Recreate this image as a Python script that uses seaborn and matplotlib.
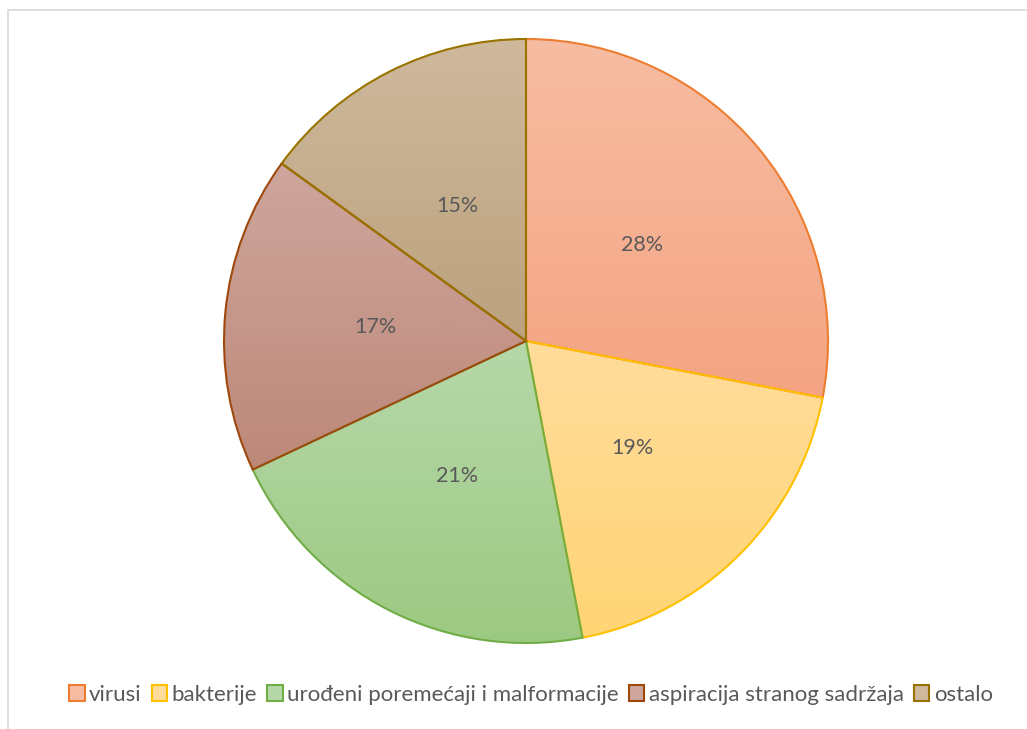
import numpy as np
import matplotlib
matplotlib.use("Agg")
import matplotlib.pyplot as plt
import seaborn as sns
from matplotlib.colors import LinearSegmentedColormap
from matplotlib.lines import Line2D

sns.set_theme(style="white")
plt.rcParams['font.family'] = ['Lato', 'DejaVu Sans']

#----------------------------------
# Data
#----------------------------------
categories = ['virusi', 'bakterije', 'urođeni poremećaji i malformacije',
              'aspiracija stranog sadržaja', 'ostalo']
shares = [28, 19, 21, 17, 15]

# fill gradient (top, bottom) and outline colours per slice
top_colors = ['#F7BDA3', '#FFDC9C', '#B6D8A9', '#CEA69D', '#CEB99D']
bottom_colors = ['#F4A482', '#FFD575', '#9CC982', '#BD8878', '#BCA27D']
edge_colors = ['#ED7D31', '#FFC000', '#70AD47', '#9E480E', '#997300']

#----------------------------------
# Figure
#----------------------------------
fig = plt.figure(figsize=(10.27, 7.29), dpi=100)
W, H = 1027, 729
cx, cy, r = 526, 341, 302
ax = fig.add_axes([(cx - r) / W, (H - cy - r) / H, 2 * r / W, 2 * r / H])

wedges, texts, autotexts = ax.pie(
    shares, startangle=90, counterclock=False, radius=1,
    autopct='%1.0f%%', pctdistance=0.5,
    colors=bottom_colors,
    wedgeprops=dict(linewidth=1.5),
    textprops=dict(color='#595959', fontsize=15.5),
)

for w, top, bot, ec in zip(wedges, top_colors, bottom_colors, edge_colors):
    w.set_edgecolor(ec)
    w.set_zorder(2)
    # vertical gradient clipped to the slice
    ext = w.get_path().get_extents()
    cmap = LinearSegmentedColormap.from_list('g', [bot, top])
    grad = np.linspace(0, 1, 256).reshape(-1, 1)
    im = ax.imshow(grad, cmap=cmap, origin='lower', aspect='auto',
                   extent=[ext.x0, ext.x1, ext.y0, ext.y1], zorder=1.5,
                   interpolation='bicubic')
    im.set_clip_path(w)
    w.set_facecolor('none')

for t in autotexts:
    t.set_zorder(5)

ax.set_xlim(-1, 1)
ax.set_ylim(-1, 1)
ax.set_aspect('equal')
ax.axis('off')

#----------------------------------
# Legend
#----------------------------------
handles = [plt.Rectangle((0, 0), 1, 1, facecolor=c, edgecolor=e, linewidth=1.5)
           for c, e in zip(top_colors, edge_colors)]
fig.legend(handles, categories, loc='center', bbox_to_anchor=(531 / W, 1 - 695 / H),
           ncol=5, frameon=False, fontsize=16, handlelength=0.7, handleheight=0.7,
           handletextpad=0.2, columnspacing=0.45, labelcolor='#595959')

#----------------------------------
# Chart area border
#----------------------------------
fig.add_artist(Line2D([8 / W, 8 / W], [0, 1 - 10 / H], color='#D9D9D9', lw=1.2))
fig.add_artist(Line2D([8 / W, 1], [1 - 10 / H, 1 - 10 / H], color='#D9D9D9', lw=1.2))

fig.savefig('out.png', dpi=100, facecolor='white')
